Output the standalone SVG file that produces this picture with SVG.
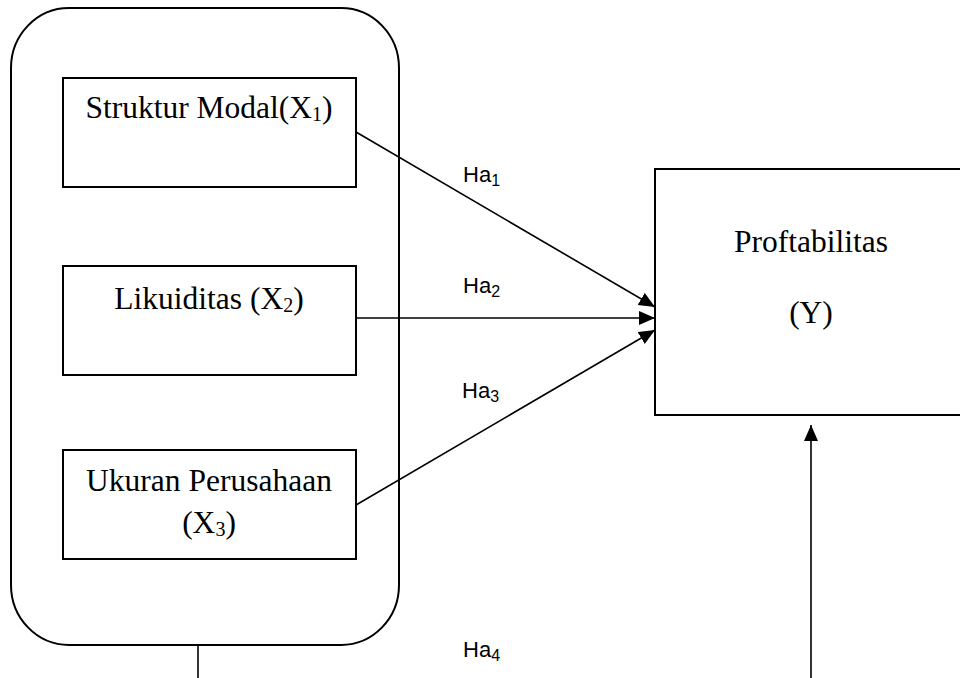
<svg xmlns="http://www.w3.org/2000/svg" width="960" height="678" viewBox="0 0 960 678">
<style>
.box{fill:none;stroke:#000;stroke-width:2}
.outer{fill:none;stroke:#000;stroke-width:2}
.t{font-family:"Liberation Serif","Times New Roman",serif;font-size:31.5px;fill:#000}
.sub{font-size:20px}
.lab{font-family:"Liberation Sans",Arial,sans-serif;font-size:22px;fill:#000}
.lsub{font-size:16px}
.c{fill:none;stroke:#000;stroke-width:1.6}
</style>
<defs>
<marker id="ah" markerUnits="userSpaceOnUse" markerWidth="18" markerHeight="16" refX="16" refY="7" orient="auto">
<path d="M0,0 L16,7 L0,14 Z" fill="#000"/>
</marker>
</defs>
<rect width="960" height="678" fill="#fff"/>
<g id="group">
<rect class="outer" x="11" y="8" width="388" height="637" rx="58" ry="60"/>
</g>
<g id="x1">
<rect class="box" x="63" y="78" width="293" height="109"/>
<text class="t" x="209" y="118" text-anchor="middle">Struktur Modal(X<tspan class="sub" dy="3">1</tspan><tspan dy="-3">)</tspan></text>
</g>
<g id="x2">
<rect class="box" x="63" y="266" width="293" height="109"/>
<text class="t" x="209" y="309" text-anchor="middle">Likuiditas (X<tspan class="sub" dy="3">2</tspan><tspan dy="-3">)</tspan></text>
</g>
<g id="x3">
<rect class="box" x="63" y="450" width="293" height="109"/>
<text class="t" x="209" y="491" text-anchor="middle">Ukuran Perusahaan</text>
<text class="t" x="209" y="533" text-anchor="middle">(X<tspan class="sub" dy="3">3</tspan><tspan dy="-3">)</tspan></text>
</g>
<g id="y">
<rect class="box" x="655" y="169" width="330" height="246"/>
<text class="t" x="811" y="252" text-anchor="middle">Proftabilitas</text>
<text class="t" x="811" y="323" text-anchor="middle">(Y)</text>
</g>
<g id="connectors">
<line class="c" x1="356" y1="132" x2="655" y2="307" marker-end="url(#ah)"/>
<line class="c" x1="356" y1="318" x2="655" y2="318" marker-end="url(#ah)"/>
<line class="c" x1="356" y1="505" x2="655" y2="330" marker-end="url(#ah)"/>
<line class="c" x1="198" y1="645" x2="198" y2="678"/>
<line class="c" x1="811" y1="678" x2="811" y2="425" marker-end="url(#ah)"/>
</g>
<g id="labels">
<text class="lab" x="463" y="182">Ha<tspan class="lsub" dy="4">1</tspan></text>
<text class="lab" x="463" y="293">Ha<tspan class="lsub" dy="4">2</tspan></text>
<text class="lab" x="462" y="398">Ha<tspan class="lsub" dy="4">3</tspan></text>
<text class="lab" x="463" y="657">Ha<tspan class="lsub" dy="4">4</tspan></text>
</g>
</svg>
